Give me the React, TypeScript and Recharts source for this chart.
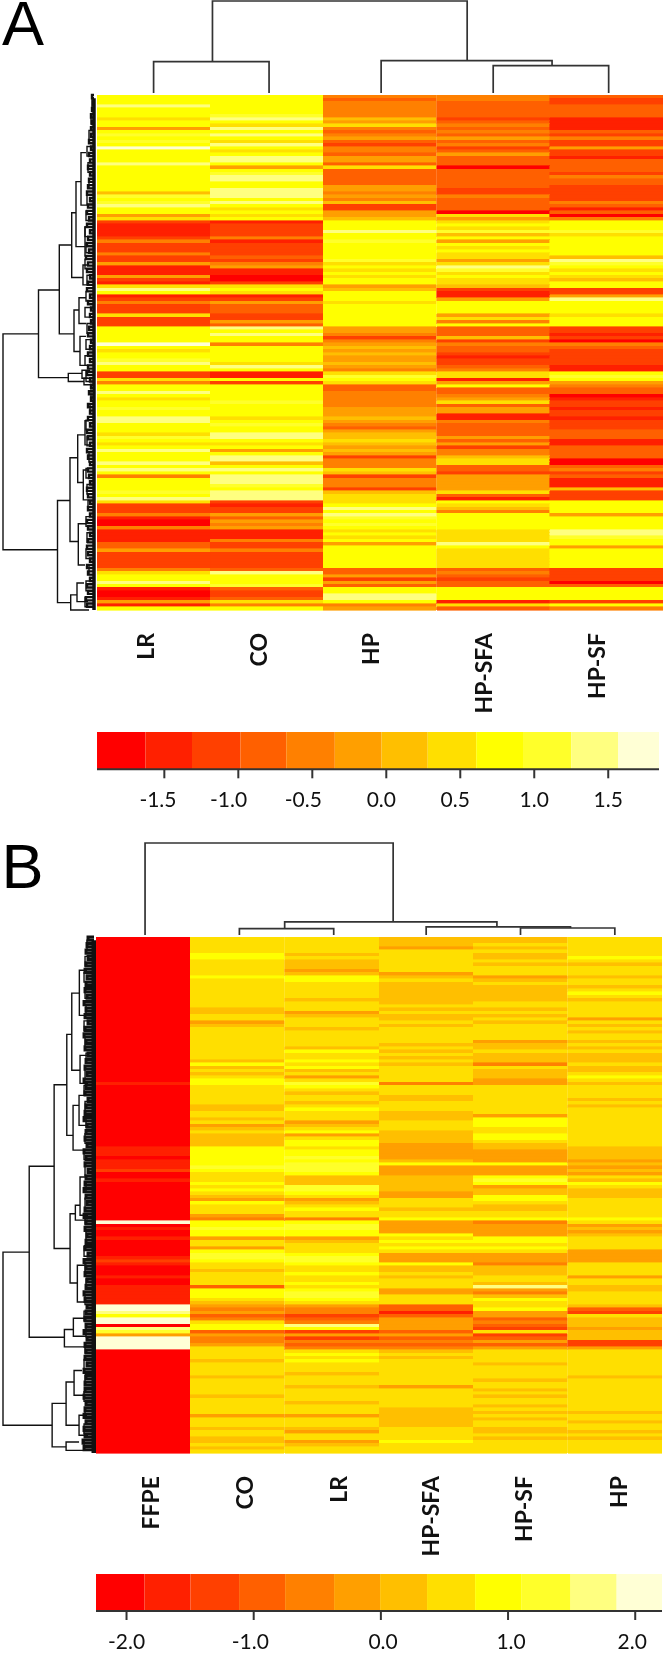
import { BarChart, Bar, Cell, XAxis, YAxis, LineChart, Line } from 'recharts'

// heat.colors(12), one entry per key bin
const HEAT = ['#FF0000', '#FF2000', '#FF4000', '#FF6000', '#FF8000', '#FF9F00', '#FFBF00', '#FFDF00', '#FFFF00', '#FFFF2A', '#FFFF80', '#FFFFD5']

// panel A, colour bin of each row per sample
const namesA = ['LR', 'CO', 'HP', 'HP-SFA', 'HP-SF']
const lrA = [
  8,8,8,10,8,8,8,7,8,8, 5,8,9,8,9,8,11,8,8,8, 8,10,8,8,8,8,8,8,8,8, 6,9,8,9,10,8,8,5,7,2,
  1,1,1,1,2,4,2,2,2,4, 2,2,5,1,1,1,5,2,1,7, 10,8,1,2,4,2,2,2,7,2, 2,2,8,8,8,8,8,11,8,7,
  8,8,9,10,8,8,2,2,7,4, 8,8,10,8,7,8,8,9,8,8, 10,10,8,8,8,7,9,8,7,8, 10,8,8,8,10,8,10,8,4,8,
  8,8,8,9,8,10,7,2,2,2, 4,1,0,0,4,1,1,1,1,3, 3,5,2,2,2,2,2,4,7,8, 8,10,8,1,0,0,1,5,1,8,
]
const coA = [
  8,8,8,8,8,8,9,10,8,7, 10,8,10,8,7,10,8,7,8,10, 10,8,5,8,9,10,10,8,8,10, 10,10,8,10,8,7,8,7,8,1,
  2,2,2,2,4,1,2,2,2,2, 3,2,4,5,1,1,0,0,2,7, 8,7,1,2,5,3,3,3,2,2, 5,3,10,8,10,8,8,4,8,8,
  8,8,8,7,10,8,1,1,8,2, 8,8,8,8,8,9,8,8,8,8, 7,8,9,8,8,10,10,8,7,8, 5,8,10,10,6,8,10,8,10,10,
  10,9,8,10,10,10,2,1,2,2, 5,3,5,4,5,1,1,1,4,2, 2,4,2,2,2,2,2,3,10,8, 8,8,9,3,2,2,3,7,4,8,
]
const hpA = [
  4,3,4,4,4,4,4,6,5,7, 4,3,4,5,3,2,4,4,3,5, 5,3,7,3,3,3,3,3,5,5, 4,5,4,6,2,2,5,5,6,8,
  8,8,10,8,8,9,8,8,8,8, 8,9,7,8,7,8,7,8,8,5, 6,8,8,8,7,8,8,8,8,8, 8,8,5,5,4,2,4,5,6,5,
  6,5,5,6,5,4,7,9,8,7, 3,3,4,4,4,4,4,5,5,5, 6,5,4,3,5,6,6,7,6,5, 6,5,2,4,4,4,7,6,2,4,
  4,4,2,6,7,7,7,8,10,8, 10,9,8,9,8,7,8,7,8,5, 8,8,8,8,8,8,8,3,3,5, 2,5,3,8,8,10,10,8,4,5,
]
const sfaA = [
  4,4,3,3,3,3,3,2,3,4, 3,4,3,5,3,4,2,3,5,3, 3,3,0,3,3,3,3,3,3,2, 2,4,3,3,3,3,0,7,5,7,
  8,7,9,6,8,5,8,7,8,7, 7,5,7,10,9,7,8,7,7,6, 2,1,1,5,8,8,8,8,5,7, 4,8,3,3,3,6,2,4,3,3,
  2,1,2,2,3,4,7,7,1,5, 8,3,3,4,5,7,3,5,5,1, 1,4,3,3,3,3,5,3,5,2, 4,4,6,7,7,3,3,2,5,5,
  5,5,5,7,3,1,8,7,6,4, 8,8,8,8,8,7,7,7,7,10, 8,7,7,7,7,7,7,3,4,3, 2,3,3,8,8,8,8,1,7,3,
]
const sfA = [
  3,2,2,3,3,3,3,1,1,1, 1,3,2,4,2,2,5,2,2,1, 3,3,3,3,2,4,3,3,2,2, 2,2,2,4,3,1,3,0,4,8,
  8,8,9,7,8,8,8,8,8,8, 6,10,9,8,7,8,7,6,8,8, 2,2,5,10,8,8,8,8,7,8, 8,8,2,2,1,2,0,4,3,2,
  2,2,2,2,1,1,8,9,8,5, 4,3,3,0,1,2,2,1,2,2, 1,2,2,2,3,3,3,1,1,3, 3,3,3,0,0,3,4,2,3,1,
  1,1,6,2,2,2,8,8,8,8, 5,8,8,8,8,10,10,9,8,8, 5,8,8,8,8,8,8,2,2,2, 2,0,3,8,8,8,8,2,8,4,
]

// panel B
const namesB = ['FFPE', 'CO', 'LR', 'HP-SFA', 'HP-SF', 'HP']
const ffpeB = [
  0,0,0,0,0,0,0,0,0,0, 0,0,0,0,0,0,0,0,0,0, 0,0,0,0,0,0,0,0,0,0, 0,0,0,0,0,0,0,0,0,0,
  0,0,0,0,0,1,0,0,0,0, 0,0,0,0,0,0,0,0,0,0, 0,0,0,0,0,1,1,1,0,1, 1,1,2,0,0,1,0,0,0,0,
  0,0,0,0,0,0,0,0,11,0, 1,0,0,1,0,0,0,0,0,1, 2,1,0,0,0,1,0,0,1,1, 1,1,1,1,11,11,10,8,11,11,
  0,10,9,5,11,11,11,11,0,0, 0,0,0,0,0,0,0,0,0,0, 0,0,0,0,0,0,0,0,0,0, 0,0,0,0,0,0,0,0,0,0,
]
const coB = [
  7,7,7,7,7,8,8,7,7,7, 7,7,8,7,7,7,7,7,7,7, 7,7,6,6,7,7,5,6,7,7, 7,7,7,7,7,7,7,7,6,8,
  6,7,6,7,8,8,7,7,7,7, 7,7,6,6,7,7,6,7,5,6, 7,6,6,6,6,8,8,8,8,8, 8,9,8,7,7,7,8,7,8,7,
  6,5,8,7,7,7,5,4,8,8, 9,8,8,5,7,7,5,8,9,9, 8,7,7,6,7,7,7,7,3,8, 8,8,7,6,5,4,5,3,4,7,
  8,8,3,5,4,4,5,7,7,7, 7,6,7,7,7,7,6,7,7,7, 7,7,6,7,7,7,7,7,5,7, 7,7,6,7,7,6,6,7,6,7,
]
const lrB = [
  7,7,7,7,7,6,7,6,6,6, 5,6,8,8,7,7,7,7,7,6, 7,7,7,5,6,7,7,7,6,7, 7,7,7,7,6,8,7,7,8,7,
  8,6,7,5,7,9,8,7,6,7, 7,6,7,8,7,7,7,5,6,7, 8,5,7,8,8,7,8,8,9,8, 9,9,9,8,6,6,6,9,9,8,
  7,5,6,7,8,7,7,4,8,9, 9,8,8,5,6,7,7,7,8,9, 9,8,7,7,8,7,7,8,7,8, 9,9,8,7,5,4,4,2,3,4,
  10,8,2,5,2,4,3,4,7,8, 7,8,7,7,7,6,7,7,7,6, 7,7,7,7,6,7,7,7,5,7, 7,7,6,5,7,7,5,6,7,7,
]
const sfaB = [
  6,6,6,5,7,7,7,7,7,7, 7,5,6,7,6,6,6,6,6,6, 6,7,6,7,6,6,7,6,7,7, 7,7,7,6,7,6,7,6,7,6,
  7,7,7,7,7,4,7,7,7,6, 6,7,7,7,6,6,6,7,7,7, 6,6,6,6,5,5,5,5,5,6, 8,5,5,5,6,6,6,6,6,5,
  5,7,7,7,6,7,7,8,5,5, 5,5,8,7,8,7,8,7,5,5, 5,8,6,6,7,6,7,7,7,5, 5,7,7,7,3,3,1,3,5,5,
  5,5,3,5,3,4,3,4,6,7, 6,7,7,7,7,7,7,7,7,5, 7,7,7,7,7,7,6,6,6,6, 6,6,7,7,7,7,8,7,7,7,
]
const sfB = [
  6,6,7,6,7,6,6,7,6,7, 7,7,5,6,7,6,6,6,6,6, 7,7,6,7,6,7,6,7,7,7, 7,7,5,6,6,7,6,6,6,4,
  7,6,6,6,5,5,7,7,7,7, 7,7,7,7,7,5,8,8,8,7, 7,8,8,7,6,6,5,5,5,5, 8,5,5,5,8,9,8,5,6,6,
  8,8,7,6,6,7,7,8,4,5, 5,5,5,8,8,7,8,7,5,5, 5,4,6,6,6,7,7,6,10,5, 4,6,8,7,7,8,5,5,3,4,
  3,2,7,2,3,5,3,5,7,7, 7,7,6,7,7,7,7,6,7,7, 6,7,6,7,7,6,7,6,7,6, 7,7,6,6,7,6,7,7,7,7,
]
const hpB = [
  7,7,7,7,7,7,8,7,6,7, 7,7,6,7,7,6,7,8,7,6, 7,7,7,7,7,5,7,6,7,6, 7,7,6,7,6,7,6,6,6,7,
  6,6,7,8,7,6,7,7,7,7, 6,7,6,7,7,7,7,7,7,7, 7,7,7,7,7,6,6,6,6,5, 6,5,6,5,7,6,8,7,6,6,
  6,7,7,7,7,7,7,8,7,5, 6,5,6,7,7,7,7,5,5,5, 5,7,7,7,7,5,7,7,6,6, 7,7,7,7,6,3,2,7,6,6,
  6,5,6,6,6,2,2,5,7,7, 7,7,7,7,7,7,6,7,7,7, 7,7,7,7,7,7,7,6,7,7, 6,7,7,6,7,6,7,7,7,7,
]

// sample dendrograms: leaf a, its height, leaf b, its height, merge height
const topLinksA = [
  [1, 0, 2.02, 0, 31],
  [4, 0, 5.02, 0, 27],
  [3.01, 0, 4.52, 27, 32],
  [1.52, 31, 3.77, 32, 91],
]
const topLinksB = [
  [2.02, 0, 3.02, 0, 6.4],
  [5, 0, 6, 0, 7],
  [4, 0, 5.53, 7, 8],
  [2.5, 6.4, 4.75, 8, 13],
  [1.02, 0, 3.65, 13, 91.7],
]

// gene dendrograms: row a, its height, row b, its height, merge height
const sideLinksA = [
  [74.2, 55.5, 141.3, 36.5, 91],
  [60.6, 34.7, 87.8, 25.7, 55.5],
  [46.6, 22.3, 74.2, 20, 34.7],
  [36.6, 18, 56.7, 11, 22.3],
  [26.9, 13, 47.1, 9, 18],
  [17.9, 8, 34.2, 6, 13],
  [41, 5, 50, 5, 9],
  [52.8, 7, 59, 5, 11],
  [66.8, 15, 79.7, 14, 20],
  [63, 8, 71, 8, 15],
  [75, 8, 84, 6, 14],
  [86.5, 12, 89, 10, 25.7],
  [85.5, 4, 88, 6, 12],
  [88, 4, 90, 4, 10],
  [126, 24, 157.7, 23.3, 36.5],
  [112.7, 16.3, 138.7, 15.7, 24],
  [105.6, 9, 120.4, 10.7, 16.3],
  [101.2, 5, 108.7, 5, 9],
  [116.5, 6, 125.8, 5, 10.7],
  [133.2, 8, 146, 9, 15.7],
  [155.3, 17, 160, 5, 23.3],
  [151.6, 10, 157.4, 6, 17],
]
const sideLinksB = [
  [97.7, 65, 151.4, 42, 91.3],
  [71.1, 40, 124.1, 29.7, 65],
  [45.8, 27.3, 96.6, 24, 40],
  [30.2, 22.3, 61.5, 21, 27.3],
  [17.4, 14.7, 41.3, 14, 22.3],
  [10.3, 7, 24.3, 7, 14.7],
  [36.7, 6, 45.4, 6, 14],
  [52.2, 15, 66.1, 7, 21],
  [49.1, 7, 58.4, 7, 15],
  [85.8, 18.7, 107.3, 16.7, 24],
  [83.2, 14, 87.8, 6, 18.7],
  [74.4, 7, 86.3, 6, 14],
  [101.8, 7, 113.2, 8, 16.7],
  [121.7, 20.7, 127.1, 8, 29.7],
  [118.2, 8, 123.8, 8, 20.7],
  [144.6, 28, 158.1, 28, 42],
  [138, 20, 151.4, 15, 28],
  [134.4, 12, 142.1, 8, 20],
  [148.3, 7, 154.5, 6, 15],
  [156.6, 15, 159.2, 6, 28],
]

// low merges near the leaves, one height per group of rows
const fineA = [
  2,1,2,3,2,3,3,5,3,5, 4,6,4,5,6,7,4,6,7,5, 7,4,6,7,5,8,6,7,4,6, 7,4,6,3,4,3,5,6,3,4,
  6,4,6,7,4,3,5,3,6,4, 6,4,7,6,4,7,6,4,6,5, 4,7,6,4,6,4,7,6,4,6, 7,6,4,7,6,4,7,6,8,7,
]
const coarseA = [2, 3, 5, 7, 6, 5, 7, 8, 9, 8, 9, 7, 8, 9, 7, 8, 9, 8, 3, 4, 8, 7, 5, 8, 7, 6, 8, 7, 8, 5, 8, 9]
const fineB = [
  6,7,8,6,8,9,7,8,9,7, 10,8,9,6,9,10,8,9,6,8, 9,7,10,8,9,6,8,9,10,7, 8,9,7,10,8,9,6,8,9,10,
  8,7,9,10,8,9,7,8,9,6, 10,8,9,7,8,10,9,7,8,9, 8,10,7,9,8,9,7,10,8,9, 9,10,8,9,10,8,10,9,11,10,
]
const coarseB = [7, 9, 10, 9, 8, 10, 9, 8, 9, 10, 9, 8, 9, 10, 9, 8, 9, 9, 8, 10, 9, 8, 9, 10, 8, 9, 10, 9, 10, 9, 10, 10]

// colour key: bin edges and labelled ticks
const keyEdgesA = [-1.955, -1.628, -1.313, -0.986, -0.676, -0.348, -0.032, 0.28, 0.608, 0.924, 1.25, 1.566, 1.845]
const keyTicksA = [-1.5, -1.0, -0.5, 0, 0.5, 1.0, 1.5]
const keyEdgesB = [-2.24, -1.859, -1.497, -1.115, -0.753, -0.368, -0.006, 0.363, 0.741, 1.103, 1.492, 1.854, 2.212]
const keyTicksB = [-2, -1, 0, 1, 2]

const LABEL_FONT = 'Lato, "Open Sans", sans-serif'

function Heatmap({ names, columns, width, plotHeight, nudges, gap, rows = 160 }: any) {
  const keys = Array.from({ length: rows }, (_, i) => `r${i}`)
  const table = names.map((name: string) => {
    const row: any = { name }
    keys.forEach((k) => { row[k] = 1 })
    return row
  })
  const renderTick = ({ x, y, payload, index }: any) => {
    const tx = x + nudges[index]
    const ty = y + gap
    return (
      <text
        x={tx}
        y={ty}
        transform={`rotate(-90 ${tx} ${ty})`}
        textAnchor="end"
        dominantBaseline="central"
        fontFamily={LABEL_FONT}
        fontWeight={700}
        fontSize={23}
        fill="#111"
      >
        {payload.value}
      </text>
    )
  }
  return (
    <div style={{ shapeRendering: 'crispEdges' }}>
      <BarChart width={width} height={plotHeight + 110} data={table} margin={{ top: 0, right: 0, bottom: 0, left: 0 }} barCategoryGap={0} barGap={0}>
        <XAxis dataKey="name" height={110} axisLine={false} tickLine={false} tickSize={0} tickMargin={0} interval={0} tick={renderTick} />
        <YAxis hide type="number" domain={[0, rows]} reversed />
        {keys.map((k, r) => (
          <Bar key={k} dataKey={k} stackId="heat" isAnimationActive={false}>
            {columns.map((col: number[], c: number) => (
              <Cell key={c} fill={HEAT[col[r]] ?? HEAT[7]} stroke={HEAT[col[r]] ?? HEAT[7]} strokeWidth={0.6} />
            ))}
          </Bar>
        ))}
      </BarChart>
    </div>
  )
}

function TopTree({ links, width, height, n, maxH }: any) {
  return (
    <LineChart width={width} height={height} margin={{ top: 2, right: 0, bottom: 0, left: 0 }}>
      <XAxis hide type="number" dataKey="x" domain={[0.5, n + 0.5]} />
      <YAxis hide type="number" domain={[0, maxH]} />
      {links.map(([a, ha, b, hb, h]: number[], i: number) => (
        <Line
          key={i}
          data={[{ x: a, y: ha }, { x: a, y: h }, { x: b, y: h }, { x: b, y: hb }]}
          dataKey="y"
          stroke="#333"
          strokeWidth={1.7}
          dot={false}
          legendType="none"
          isAnimationActive={false}
        />
      ))}
    </LineChart>
  )
}

function SideTree({ links, fine, coarse, plotHeight, spine, fineWidth }: any) {
  const drawn: { points: { x: number; y: number }[]; w: number }[] = []
  links.forEach(([a, ha, b, hb, h]: number[]) => {
    drawn.push({ points: [{ x: ha, y: a }, { x: h, y: a }, { x: h, y: b }, { x: hb, y: b }], w: 1.4 })
  })
  coarse.forEach((h: number, i: number) => {
    const a = i * 5 + 1
    const b = i * 5 + 4
    drawn.push({ points: [{ x: 0, y: a }, { x: h, y: a }, { x: h, y: b }, { x: 0, y: b }], w: 1.4 })
  })
  fine.forEach((h: number, i: number) => {
    const a = i * 2
    const b = i * 2 + 1
    drawn.push({ points: [{ x: 0, y: a }, { x: h, y: a }, { x: h, y: b }, { x: 0, y: b }], w: fineWidth })
  })
  drawn.push({ points: [{ x: 0, y: 1 }, { x: 0, y: 160 }], w: spine })
  return (
    <LineChart width={96} height={plotHeight + 4} margin={{ top: 2, right: 2, bottom: 2, left: 3 }}>
      <XAxis hide type="number" dataKey="x" domain={[0, 91]} reversed />
      <YAxis hide type="number" domain={[0, 160]} reversed />
      {drawn.map((d, i) => (
        <Line key={i} data={d.points} dataKey="y" stroke="#111" strokeWidth={d.w} dot={false} legendType="none" isAnimationActive={false} />
      ))}
    </LineChart>
  )
}

function ColorKey({ edges, ticks, nudges, width, barHeight }: any) {
  const row: any = { name: 'key' }
  HEAT.forEach((_, i) => { row[`b${i}`] = edges[i + 1] - edges[i] })
  const renderTick = ({ x, y, payload, index }: any) => (
    <text x={x + nudges[index]} y={y + 27} textAnchor="middle" fontFamily={LABEL_FONT} fontSize={21} fill="#111">
      {payload.value.toFixed(1)}
    </text>
  )
  return (
    <BarChart layout="vertical" width={width} height={barHeight + 60} data={[row]} margin={{ top: 0, right: 0, bottom: 0, left: 0 }} barCategoryGap={0}>
      <XAxis
        type="number"
        domain={[0, edges[12] - edges[0]]}
        ticks={ticks.map((t: number) => t - edges[0])}
        height={60}
        stroke="#333"
        strokeWidth={2}
        tickSize={9}
        interval={0}
        tick={(p: any) => renderTick({ ...p, payload: { value: p.payload.value + edges[0] } })}
        allowDataOverflow
      />
      <YAxis hide type="category" dataKey="name" />
      {HEAT.map((color, i) => (
        <Bar key={color} dataKey={`b${i}`} stackId="key" fill={color} isAnimationActive={false} />
      ))}
    </BarChart>
  )
}

const abs = (left: number, top: number) => ({ position: 'absolute' as const, left, top })
const letter = { fontFamily: '"Liberation Sans", sans-serif', fontSize: 63, lineHeight: '45px', height: 45, color: '#000' }

export default function App() {
  return (
    <div style={{ position: 'absolute', left: 0, top: 0, width: 666, height: 1656, overflow: 'hidden', background: '#fff', filter: 'blur(0.6px)' }}>
      <div style={{ ...abs(2, 1), ...letter }}>A</div>
      <div style={{ ...abs(1.5, 844), ...letter }}>B</div>

      <div style={abs(96.5, -1)}>
        <TopTree links={topLinksA} width={566} height={94} n={5} maxH={91} />
      </div>
      <div style={abs(0, 93)}>
        <SideTree links={sideLinksA} fine={fineA} coarse={coarseA} plotHeight={515} spine={3.5} fineWidth={2.4} />
      </div>
      <div style={abs(96.5, 95)}>
        <Heatmap names={namesA} columns={[lrA, coA, hpA, sfaA, sfA]} width={566} plotHeight={515} nudges={[-8.5, -8.5, -10, -10, -10]} gap={23} />
      </div>
      <div style={abs(96.7, 731.7)}>
        <ColorKey edges={keyEdgesA} ticks={keyTicksA} nudges={[-6.4, -9.8, -9, -5, -5, 0, 0]} width={562.3} barHeight={37.3} />
      </div>

      <div style={abs(96, 841)}>
        <TopTree links={topLinksB} width={566} height={94} n={6} maxH={91.7} />
      </div>
      <div style={abs(0, 934.7)}>
        <SideTree links={sideLinksB} fine={fineB} coarse={coarseB} plotHeight={516} spine={5} fineWidth={3} />
      </div>
      <div style={abs(96, 936.7)}>
        <Heatmap names={namesB} columns={[ffpeB, coB, lrB, sfaB, sfB, hpB]} width={566} plotHeight={516} nudges={[7, 6, 6, 3.5, 2.5, 3.5]} gap={23} />
      </div>
      <div style={abs(96.3, 1573.7)}>
        <ColorKey edges={keyEdgesB} ticks={keyTicksB} nudges={[0, -3.4, 2.2, 3, -3]} width={566.2} barHeight={37} />
      </div>
    </div>
  )
}
